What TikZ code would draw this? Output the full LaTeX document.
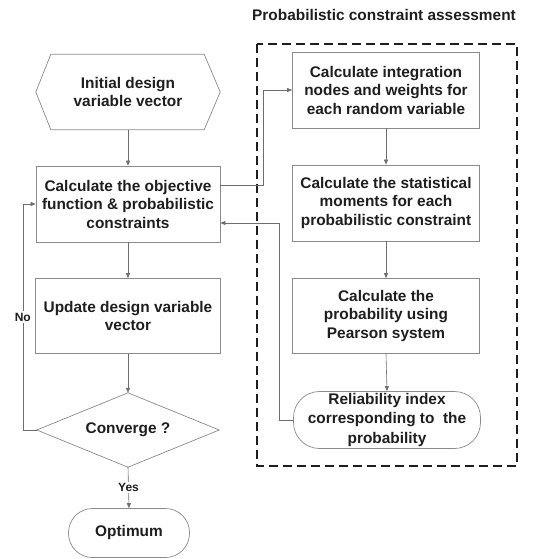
\documentclass[tikz,border=0pt]{standalone}
\usepackage{fontspec}
\setmainfont{Liberation Sans}
\usetikzlibrary{arrows.meta}
\definecolor{Ink}{HTML}{1E1E1E}
\definecolor{Wire}{HTML}{6E6E6E}
\definecolor{Edge}{HTML}{8A8A8A}

\begin{document}
\begin{tikzpicture}[x=1pt,y=-1pt,
    font=\bfseries\fontsize{15.4}{18.5}\selectfont,
    box/.style={draw=Edge,line width=0.7pt,align=center,text=Ink,inner sep=0pt,
      minimum width=186pt,minimum height=76pt},
    capsule/.style={box,rounded corners=24pt},
    bare/.style={align=center,text=Ink,inner sep=0pt},
    wire/.style={draw=Wire,line width=0.6pt,-{Triangle[length=5pt,width=4pt]}},
    tag/.style={font=\bfseries\fontsize{12}{14}\selectfont,fill=white,inner sep=1.5pt,text=Ink}]
  \useasboundingbox (0,0) rectangle (533,559);

  % main loop
  \node[bare,minimum width=184pt,minimum height=75pt] (init) at (128,92) {Initial design\\variable vector};
  \draw[draw=Edge,line width=0.7pt] (init.west) -- ([xshift=15pt]init.north west)
    -- ([xshift=-16pt]init.north east) -- (init.east)
    -- ([xshift=-16pt]init.south east) -- ([xshift=15pt]init.south west) -- cycle;
  \node[box,minimum width=184pt] (obj) at (128,204) {Calculate the objective\\function \& probabilistic\\constraints};
  \node[box,minimum width=185pt,minimum height=75pt] (upd) at (128,316) {Update design variable\\vector};
  \node[bare,minimum width=182pt,minimum height=74pt] (conv) at (128,430) {Converge ?};
  \draw[draw=Edge,line width=0.7pt] (conv.north) -- (conv.east) -- (conv.south) -- (conv.west) -- cycle;
  \node[capsule,minimum width=121pt,minimum height=49pt] (opt) at (129,533) {Optimum};

  % constraint assessment block
  \node[text=Ink] (title) at (384,15) {Probabilistic constraint assessment};
  \draw[Ink,line width=1.8pt,dash pattern=on 9pt off 5pt] (257,44) rectangle (517,466);
  \node[box,minimum width=187pt] (intg) at (386,90) {Calculate integration\\nodes and weights for\\each random variable};
  \node[box,minimum width=187pt] (moms) at (386,203) {Calculate the statistical\\moments for each\\probabilistic constraint};
  \node[box,minimum width=187pt,minimum height=75pt] (pear) at (386,316) {Calculate the\\probability using\\Pearson system};
  \node[capsule,minimum width=187pt,minimum height=57pt,rounded corners=26pt,
    font=\bfseries\fontsize{15.4}{19.5}\selectfont] (reli) at (387,420)
    {Reliability index\\corresponding to \ the\\probability};

  \foreach \a/\b in {init/obj,obj/upd,upd/conv,intg/moms,moms/pear,pear/reli}
    \draw[wire] (\a.south) -- (\b.north);
  \draw[wire] (conv.south) -- node[tag]{Yes} (opt.north);
  \draw[wire] (conv.west) -- ++(-14,0) |- node[tag,pos=0.25]{No} (obj.west);
  \draw[wire] ([yshift=19pt]obj.east) -- ++(43,0) |- (intg.west);
  \draw[wire] (reli.west) -- ++(-14,0) |- ([yshift=-19pt]obj.east);
\end{tikzpicture}
\end{document}
